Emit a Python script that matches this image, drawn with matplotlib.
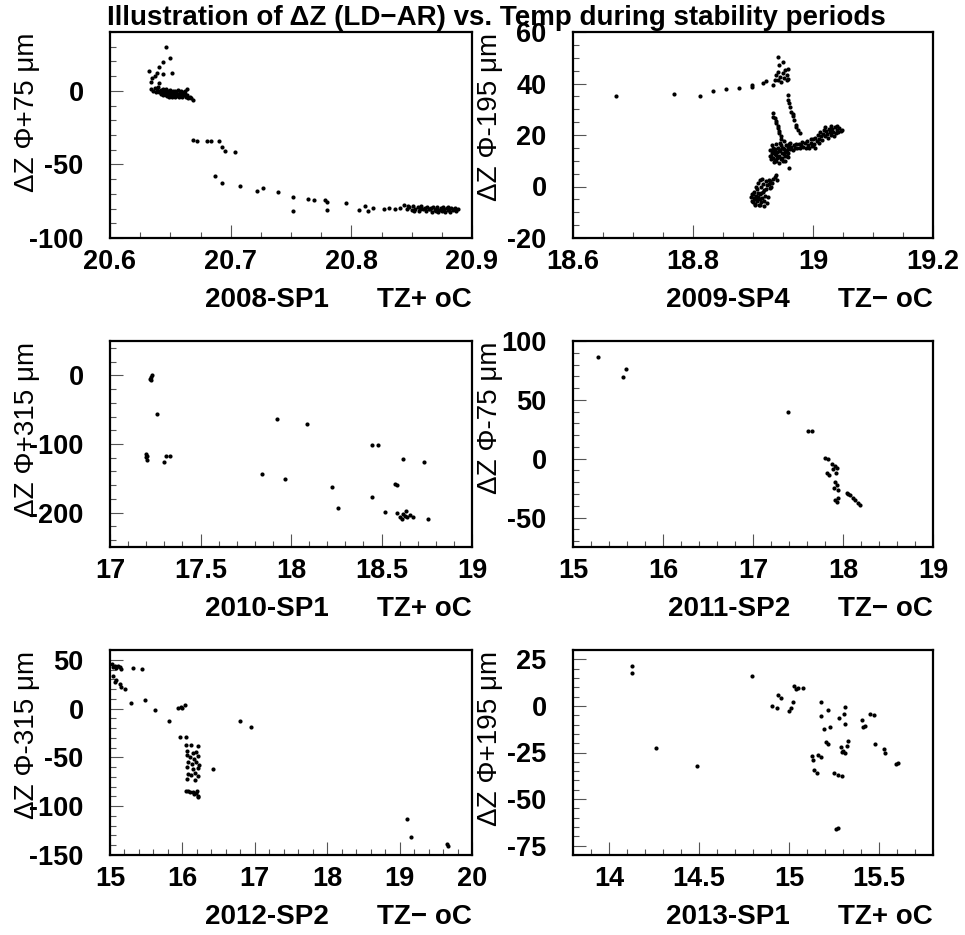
# plot.py
# Delta Z (LD-AR) vs temperature during stability periods, 6 panels

import matplotlib
matplotlib.use('Agg')
import matplotlib.pyplot as plt
from matplotlib.ticker import MultipleLocator, FuncFormatter

plt.rcParams['font.family'] = ['Liberation Sans', 'DejaVu Sans']
plt.rcParams['font.weight'] = 'bold'
plt.rcParams['axes.unicode_minus'] = False

# -----------------------------
# Data
# -----------------------------

# 2008-SP1, TZ+
p1_x = [20.646, 20.650, 20.644, 20.641, 20.651, 20.632, 20.637, 20.635, 20.641, 20.644, 20.639, 20.634,
        20.634, 20.636, 20.638, 20.639, 20.640, 20.641, 20.642, 20.642, 20.643, 20.644, 20.644, 20.645,
        20.645, 20.646, 20.646, 20.647, 20.647, 20.648, 20.648, 20.649, 20.649, 20.650, 20.650, 20.651,
        20.651, 20.652, 20.652, 20.653, 20.653, 20.654, 20.654, 20.655, 20.655, 20.656, 20.656, 20.657,
        20.657, 20.658, 20.658, 20.659, 20.659, 20.660, 20.660, 20.661, 20.662, 20.662, 20.663, 20.664,
        20.665, 20.666, 20.667, 20.669, 20.664, 20.637, 20.640,
        20.6685, 20.672, 20.680, 20.684, 20.690, 20.693, 20.695, 20.7036, 20.687, 20.6926, 20.708, 20.7216,
        20.7265, 20.7395, 20.7514, 20.752, 20.764, 20.769, 20.778, 20.780, 20.780, 20.7956, 20.8066, 20.811,
        20.814, 20.818, 20.827, 20.831,
        20.836, 20.840, 20.844, 20.846, 20.848, 20.850, 20.851, 20.853, 20.855, 20.856, 20.858, 20.859,
        20.861, 20.862, 20.863, 20.864, 20.866, 20.867, 20.868, 20.869, 20.870, 20.871, 20.872, 20.873,
        20.874, 20.875, 20.876, 20.877, 20.878, 20.879, 20.880, 20.881, 20.882, 20.883, 20.884, 20.885,
        20.886, 20.887, 20.888, 20.865, 20.857, 20.870, 20.876, 20.880, 20.852, 20.847]
p1_y = [30, 22, 19.8, 16.4, 12.4, 13.5, 10.1, 8.6, 5.6, 11.7, 12, 6,
        1, 0, -1, 1.5, 0, -1, -2, 0.5, -1, 1, -3, -1.5,
        0, -2.5, 1, -1, -3.5, 0, -2, -4, -1, 0.5, -2.5, -1.5,
        -4.5, 0, -3, -1, -2, -4, 0, -2.5, -1, -3.5, 0.5, -2,
        -4.5, -1, -3, 0, -2, -4, -1, -3, -2, 0, -4, -3,
        -5, -4, -5, -6.3, 1.1, 2, 2.5,
        -33.4, -33.8, -33.8, -33.8, -34.3, -38.3, -40.6, -41.7, -58.1, -62.4, -64.7, -68.3,
        -65.8, -68.8, -72.1, -81.6, -73.5, -74, -74.4, -75.6, -81.2, -75.9, -80.7, -78.4,
        -81.6, -79.6, -80.5, -79.6,
        -80, -79.4, -77.8, -80.5, -79, -81, -78.2, -80, -79.2, -81.5, -78.5, -80.3,
        -79.5, -81.8, -78.8, -80.6, -79.8, -82, -78.6, -81, -80, -79, -82.2, -80.8,
        -79.5, -81.5, -78.8, -80.2, -82, -79.3, -81, -80, -82, -79.6, -81.2, -80.4,
        -79.8, -81.5, -80.5, -80.2, -80.4, -81.6, -81.2, -79.2, -81.8, -78.4]

# 2009-SP4, TZ-
p2_x = [18.672, 18.769, 18.812, 18.833, 18.855, 18.876, 18.898, 18.899, 18.916, 18.922, 18.933, 18.936,
        18.939, 18.941, 18.943, 18.941, 18.9506, 18.953, 18.956, 18.958, 18.951, 18.942, 18.947, 18.956,
        18.959, 18.945, 18.950,
        18.958, 18.959, 18.961, 18.964, 18.967, 18.969, 18.972, 18.975, 18.978, 18.960, 18.966, 18.971,
        18.933, 18.936, 18.939, 18.942, 18.944, 18.947, 18.951, 18.934, 18.938, 18.943, 18.941, 18.946,
        18.928, 18.929, 18.930, 18.931, 18.932, 18.933, 18.934, 18.935, 18.936, 18.937, 18.938, 18.939,
        18.940, 18.941, 18.942, 18.943, 18.944, 18.945, 18.946, 18.947, 18.948, 18.949, 18.950, 18.951,
        18.952, 18.953, 18.954, 18.955, 18.956, 18.957, 18.958, 18.959, 18.960, 18.962, 18.964, 18.966,
        18.968, 18.970, 18.972, 18.935, 18.940, 18.945, 18.950, 18.933, 18.938, 18.943, 18.948, 18.953,
        18.958, 18.930, 18.962, 18.936, 18.9598,
        18.974, 18.976, 18.978, 18.980, 18.982, 18.984, 18.986, 18.988, 18.990, 18.992, 18.994, 18.996,
        18.998, 19.000, 19.002, 19.004, 19.006, 19.008, 19.010, 19.012, 19.014, 19.016, 19.018, 19.020,
        19.022, 19.024, 19.026, 19.028, 19.030, 19.032, 19.034, 19.036, 19.038, 19.040, 19.042, 19.044,
        19.046, 19.048, 19.003, 19.000, 18.997, 19.010, 19.020, 19.030, 19.040, 19.025, 19.015, 19.035,
        18.896, 18.898, 18.899, 18.900, 18.901, 18.902, 18.903, 18.904, 18.905, 18.906, 18.907, 18.908,
        18.909, 18.910, 18.911, 18.912, 18.913, 18.914, 18.915, 18.916, 18.917, 18.918, 18.919, 18.920,
        18.921, 18.922, 18.923, 18.924, 18.925, 18.926, 18.927, 18.928, 18.929, 18.930, 18.932, 18.934,
        18.937, 18.940, 18.938, 18.905, 18.908, 18.911, 18.915, 18.903, 18.912, 18.900, 18.918, 18.906,
        18.914]
p2_y = [35, 35.8, 35.3, 37.2, 37.9, 38.2, 38.6, 39.3, 40.1, 41, 39.5, 41.5,
        43.3, 44.6, 47.1, 50.4, 48.4, 45.2, 43.3, 45.8, 42.3, 41.3, 40.6, 41.3,
        41.7, 42.5, 44,
        35.6, 33.6, 31, 29.1, 27.2, 25.9, 24, 22, 20.8, 32.5, 28, 23,
        28.5, 26.5, 24.6, 22.7, 20.8, 19.5, 17.6, 27, 25.5, 21.5, 23.6, 18.5,
        12, 14, 10.5, 16, 13, 11, 15, 9.5, 12.5, 14.5, 10, 16.5,
        13.5, 11.5, 15, 9, 12, 14, 10.5, 16, 13, 11, 15, 12.5,
        14.5, 10, 13.5, 16, 12, 14, 15.5, 13, 16.5, 14.5, 15.5, 14,
        16, 15, 16.5, 13.5, 11, 16.8, 9.8, 14.2, 12.2, 13.8, 15, 12,
        11.5, 11.8, 17, 10.3, 7.2,
        15, 16.5, 14.8, 16, 17.2, 15.5, 16.8, 15, 17.5, 16, 14.8, 17,
        15.8, 18.5, 16.5, 19, 17.5, 20, 18.5, 21, 19.5, 20.5, 22, 19.8,
        21.5, 20.5, 22.5, 21, 20, 22.3, 21.2, 23, 20.8, 22, 21, 22.6,
        21.5, 22, 14.8, 16, 18.5, 16.8, 23, 23.5, 23.6, 19, 18, 19.8,
        -4, -5.5, -3, -6, -4.5, -2, -5, -6.8, -3.5, -1, -5.8, -4,
        -2.5, -7, -5, -3, 0, -6, -4.5, 1, -2, -7.5, -5.5, -3.5,
        2, -1, -6.5, 0.5, -4, 2.5, 1, -0.5, 2, 0, 1.5, 3,
        3.5, 2.5, 4.5, 0, 1.5, 2.5, 3, -7, -7.3, -3, -1.5, -5,
        -2.5]

# 2010-SP1, TZ+
p3_x = [17.23, 17.227, 17.224, 17.22, 17.258, 17.199, 17.2, 17.205, 17.204, 17.3, 17.31, 17.33,
        17.838, 17.921, 17.967, 18.087, 18.228, 18.261, 18.446, 18.483, 18.446, 18.519, 18.575, 18.584,
        18.617, 18.737, 18.587, 18.602, 18.62, 18.634, 18.641, 18.656, 18.674, 18.611, 18.628, 18.759]
p3_y = [1, -2.4, -6.3, -5, -56.7, -114.9, -118.8, -123.6, -117.8, -126, -117.8, -117.8,
        -144, -63, -150.3, -70.3, -162.4, -192.8, -101.8, -101.8, -176.5, -198.4, -158.5, -160,
        -122, -126, -200, -206, -202, -197, -206, -203, -207, -209.5, -205, -208.5]

# 2011-SP2, TZ-
p4_x = [15.281, 15.559, 15.589, 17.392, 17.615, 17.652, 17.8, 17.837, 17.874, 17.911, 17.93, 17.893,
        17.92, 17.82, 17.84, 17.911, 17.93, 17.904, 17.948, 17.911, 17.93, 17.948, 18.04, 18.078,
        18.107, 18.133, 18.17, 18.189, 18.059]
p4_y = [86, 69.5, 75.8, 39.6, 23.4, 23.4, 0.6, -0.3, -4.8, -6.3, -7.7, -9.1,
        -12, -12, -13.5, -19.4, -22.2, -25, -26.6, -35.1, -36.5, -33.7, -28.8, -30.9,
        -33.7, -35.1, -38, -39.5, -30]

# 2012-SP2, TZ-
p5_x = [15.033, 15.065, 15.11, 15.143, 15.088, 15.042, 15.157, 15.313, 15.437,
        15.042, 15.088, 15.133, 15.157, 15.203, 15.065, 15.295, 15.49, 15.616, 15.814,
        15.939, 15.985, 16.03, 16.00, 15.962, 16.05,
        16.05, 16.12, 16.21, 16.07, 16.14, 16.19, 16.06, 16.10, 16.16, 16.22, 16.08, 16.13,
        16.19, 16.23, 16.06, 16.15, 16.21, 16.08, 16.12, 16.18, 16.22, 16.07, 16.17, 16.074,
        16.14, 16.19, 16.22, 16.21, 16.16, 16.10, 16.05, 16.20,
        16.427, 16.796, 16.944, 19.098, 19.153, 19.65, 19.67]
p5_y = [45.6, 43.9, 43.2, 42.2, 41.2, 42.2, 40.4, 41.4, 41,
        33.5, 29.4, 25, 21.6, 19.9, 27.4, 5.5, 8.9, -1.4, -12.7,
        1, 2, 3.4, 0.5, -28.8, -28.8,
        -37.8, -37.8, -38.5, -43.9, -45.4, -44, -48, -50, -52, -49, -55, -57,
        -55, -58, -60, -62, -61, -67, -68, -66, -69, -72, -73, -84.7,
        -85.8, -86.4, -89.2, -90.5, -87, -85, -84, -84,
        -62.4, -12.7, -18.5, -112.9, -131.7, -138.6, -141]

# 2013-SP1, TZ+
p6_x = [14.126, 14.126, 14.263, 14.491, 14.793, 14.904, 14.931, 14.94, 14.953, 14.998, 15.013, 15.022,
        15.028, 15.037, 15.052, 15.078, 15.176, 15.176, 15.218, 15.194, 15.226, 15.204, 15.217, 15.13,
        15.135, 15.163, 15.176, 15.139, 15.157, 15.25, 15.274, 15.293, 15.278, 15.311, 15.306, 15.311,
        15.287, 15.302, 15.311, 15.32, 15.33, 15.296, 15.259, 15.274, 15.407, 15.411, 15.422, 15.448,
        15.472, 15.478, 15.528, 15.533, 15.593, 15.607]
p6_y = [21.3, 17.4, -22.7, -32.3, 16.3, 0, -1.2, 5.9, 4.4, -2.7, -1.2, 2.3,
        10.6, 8.9, 9.8, 9.8, 2.1, -5.3, -2.1, -12.4, -11.5, -19.5, -20.4, -27.1,
        -28.9, -26.6, -27.5, -34.2, -36, -35.8, -37.2, -37.8, -6.7, -0.5, -4.4, -9.8,
        -22.2, -24, -25.4, -21.3, -18.6, -24.8, -66.1, -65.6, -7.6, -11.5, -10.6, -4.4,
        -4.8, -20.7, -23, -25.4, -31.4, -30.7]

ylabels = ['\u0394Z \u03a6+75 \u03bcm', '\u0394Z \u03a6-195 \u03bcm', '\u0394Z \u03a6+315 \u03bcm',
           '\u0394Z \u03a6-75 \u03bcm', '\u0394Z \u03a6-315 \u03bcm', '\u0394Z \u03a6+195 \u03bcm']
periods = ['2008-SP1', '2009-SP4', '2010-SP1', '2011-SP2', '2012-SP2', '2013-SP1']
sensors = ['TZ+ oC', 'TZ\u2212 oC', 'TZ+ oC', 'TZ\u2212 oC', 'TZ\u2212 oC', 'TZ+ oC']

xlims = [(20.6, 20.9), (18.6, 19.2), (17, 19), (15, 19), (15, 20), (13.8, 15.8)]
ylims = [(-100, 40), (-20, 60), (-250, 50), (-75, 100), (-150, 60), (-80, 30)]
xsteps = [(0.1, 0.025), (0.2, 0.05), (0.5, 0.1), (1, 0.2), (1, 0.2), (0.5, 0.1)]
ysteps = [(50, 10), (20, 5), (100, 20), (50, 10), (50, 10), (25, 5)]

# -----------------------------
# Figure layout (pixel boxes)
# -----------------------------
W, H = 965, 935
boxes = [(110, 32, 472, 238), (573, 32, 933, 238),
         (110, 341, 472, 547), (573, 341, 933, 547),
         (110, 650, 472, 855), (573, 650, 933, 855)]

fig = plt.figure(figsize=(W / 100, H / 100), dpi=100)

fmt = FuncFormatter(lambda v, p: '%g' % (round(v, 6) + 0.0))

data = [(p1_x, p1_y), (p2_x, p2_y), (p3_x, p3_y), (p4_x, p4_y), (p5_x, p5_y), (p6_x, p6_y)]

for i, (xs, ys) in enumerate(data):
    l, t, r, b = boxes[i]
    ax = fig.add_axes([l / W, 1 - b / H, (r - l) / W, (b - t) / H])
    ax.plot(xs, ys, 'o', color='black', ms=3.0, mew=0)

    ax.set_xlim(*xlims[i])
    ax.set_ylim(*ylims[i])
    ax.xaxis.set_major_locator(MultipleLocator(xsteps[i][0]))
    ax.xaxis.set_minor_locator(MultipleLocator(xsteps[i][1]))
    ax.yaxis.set_major_locator(MultipleLocator(ysteps[i][0]))
    ax.yaxis.set_minor_locator(MultipleLocator(ysteps[i][1]))
    ax.xaxis.set_major_formatter(fmt)
    ax.yaxis.set_major_formatter(fmt)

    ax.tick_params(which='both', direction='in', top=False, right=False,
                   width=0.8, color='#555555', labelsize=19.5)
    ax.tick_params(which='major', length=9.5)
    ax.tick_params(which='minor', length=4.5)
    ax.tick_params(axis='x', pad=8)
    ax.tick_params(axis='y', pad=19)
    for s in ax.spines.values():
        s.set_linewidth(1.6)

    # y title, top aligned like ROOT
    ax.annotate(ylabels[i], xy=(0, 1), xycoords='axes fraction',
                xytext=(-83, -1), textcoords='offset pixels',
                rotation=90, ha='center', va='top', fontsize=20, fontweight='normal')

    # x title: period and sensor
    ax.annotate(sensors[i], xy=(1, 0), xycoords='axes fraction',
                xytext=(0, -62), textcoords='offset pixels',
                ha='right', va='center', fontsize=20)
    ax.annotate(periods[i], xy=(1, 0), xycoords='axes fraction',
                xytext=(-143, -62), textcoords='offset pixels',
                ha='right', va='center', fontsize=20)

fig.text(496 / W, 1 - 18 / H,
         'Illustration of \u0394Z (LD\u2212AR) vs. Temp during stability periods',
         ha='center', va='center', fontsize=20)

fig.savefig('out.png', dpi=100)
